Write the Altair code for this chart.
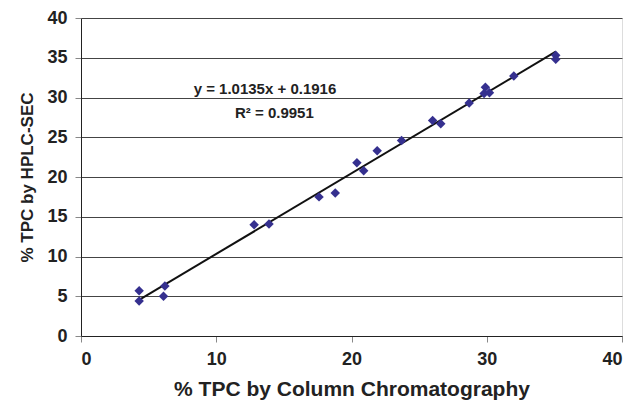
import altair as alt
import pandas as pd

col_chrom = [4.3, 4.3, 6.2, 6.1, 12.8, 13.9, 17.6, 18.8, 20.4, 20.9, 21.9, 23.7,
             26.0, 26.6, 28.7, 29.9, 29.8, 30.2, 32.0, 35.1, 35.1]
hplc_sec = [5.7, 4.4, 6.3, 5.0, 14.0, 14.1, 17.5, 18.0, 21.8, 20.8, 23.3, 24.6,
            27.1, 26.7, 29.3, 31.3, 30.5, 30.6, 32.7, 35.3, 34.8]

slope = 1.0135
intercept = 0.1916
eq_labels = ["y = 1.0135x + 0.1916", "R² = 0.9951"]
eq_x = [13.6, 14.3]
eq_y = [31.1, 28.05]

pts = pd.DataFrame({"x": col_chrom, "y": hplc_sec})
xmin, xmax = min(col_chrom), max(col_chrom)
fit = pd.DataFrame({"x": [xmin, xmax], "y": [slope * xmin + intercept, slope * xmax + intercept]})
ann = pd.DataFrame({"x": eq_x, "y": eq_y, "t": eq_labels})

FONT = "Liberation Sans"

xscale = alt.Scale(domain=[0, 40], nice=False, zero=True)
yscale = alt.Scale(domain=[0, 40], nice=False, zero=True)

xaxis = alt.Axis(title="% TPC by Column Chromatography", values=[0, 10, 20, 30, 40],
                 grid=False, tickSize=6, tickColor="#888888", domainColor="#222222",
                 labelFontSize=18, labelFontWeight="bold", labelColor="#222222",
                 labelPadding=8, titleFontSize=21, titleFontWeight="bold",
                 titleColor="#222222", titlePadding=10, labelFont=FONT, titleFont=FONT,
                 labelOverlap=False)
yaxis = alt.Axis(title="% TPC by HPLC-SEC", values=list(range(0, 45, 5)),
                 grid=True, gridColor="#444444", gridWidth=1, tickSize=6,
                 tickColor="#888888", domainColor="#222222",
                 labelFontSize=18, labelFontWeight="bold", labelColor="#222222",
                 labelPadding=8, titleFontSize=17, titleFontWeight="bold",
                 titleColor="#222222", titlePadding=10, labelFont=FONT, titleFont=FONT,
                 labelOverlap=False)

line = alt.Chart(fit).mark_line(color="#111111", strokeWidth=2).encode(
    x=alt.X("x:Q", scale=xscale, axis=xaxis),
    y=alt.Y("y:Q", scale=yscale, axis=yaxis),
)

points = alt.Chart(pts).mark_point(shape="diamond", filled=True, size=90,
                                   color="#35308F", opacity=1).encode(
    x=alt.X("x:Q", scale=xscale, axis=xaxis),
    y=alt.Y("y:Q", scale=yscale, axis=yaxis),
)

text = alt.Chart(ann).mark_text(font=FONT, fontSize=15, fontWeight="bold",
                                color="#222222", align="center").encode(
    x=alt.X("x:Q", scale=xscale, axis=xaxis),
    y=alt.Y("y:Q", scale=yscale, axis=yaxis),
    text="t:N",
)

chart = alt.layer(line, points, text).properties(
    width=541, height=318,
    autosize=alt.AutoSizeParams(type="none"),
    padding={"left": 81, "top": 18, "right": 11, "bottom": 67},
).configure_view(stroke="#555555", strokeWidth=1).configure(background="white")

chart.save("out.html", embed_options={"renderer": "svg", "actions": False})
